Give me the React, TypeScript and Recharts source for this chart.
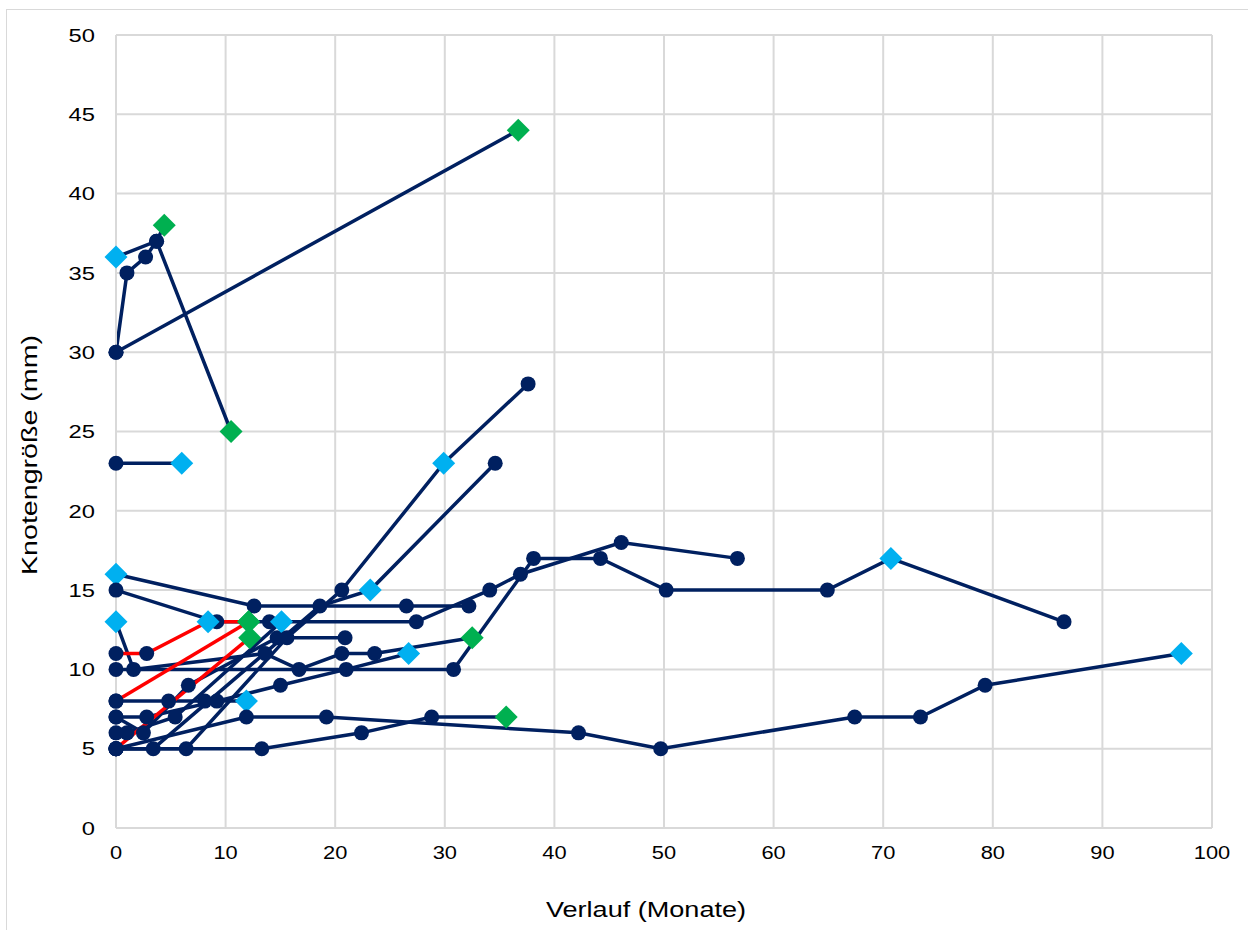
import { LineChart, Line, XAxis, YAxis, CartesianGrid } from 'recharts';

// [months, size in mm, marker]  o = navy circle, c = light blue diamond, g = green diamond
type Pt = [number, number, string];

const NAVY = '#002060';
const CYAN = '#00B0F0';
const GREEN = '#00B050';
const RED = '#FF0000';
const GRID = '#D9D9D9';
const FONT = '"Liberation Sans", Arial, sans-serif';

const xTicks = [0, 10, 20, 30, 40, 50, 60, 70, 80, 90, 100];
const yTicks = [0, 5, 10, 15, 20, 25, 30, 35, 40, 45, 50];

const pt01: Pt[] = [[0, 30, 'o'], [36.7, 44, 'g']];
const pt02: Pt[] = [[0, 30, 'o'], [1, 35, 'o'], [2.7, 36, 'o'], [3.7, 37, 'o'], [10.5, 25, 'g']];
const pt03: Pt[] = [[0, 36, 'c'], [3.7, 37, 'o'], [4.4, 38, 'g']];
const pt04: Pt[] = [[0, 23, 'o'], [6, 23, 'c']];
const pt05: Pt[] = [[0, 16, 'c'], [12.6, 14, 'o'], [26.5, 14, 'o'], [32.2, 14, 'o']];
const pt06: Pt[] = [[0, 15, 'o'], [9.2, 13, 'o'], [14, 13, 'o'], [27.4, 13, 'o'], [34.1, 15, 'o'], [36.9, 16, 'o'], [46.1, 18, 'o'], [56.7, 17, 'o']];
const pt07: Pt[] = [[0, 13, 'c'], [1.6, 10, 'o'], [13.6, 11, 'o'], [16.7, 10, 'o'], [20.6, 11, 'o'], [23.6, 11, 'o'], [32.5, 12, 'g']];
const pt08: Pt[] = [[0, 10, 'o'], [30.8, 10, 'o'], [38.1, 17, 'o'], [44.2, 17, 'o'], [50.2, 15, 'o'], [64.9, 15, 'o'], [70.7, 17, 'c'], [86.5, 13, 'o']];
const pt09: Pt[] = [[0, 8, 'o'], [4.8, 8, 'o'], [8.1, 8, 'o'], [11.9, 8, 'c']];
const pt10: Pt[] = [[0, 7, 'o'], [2.8, 7, 'o'], [9.2, 8, 'o'], [15, 9, 'o'], [21, 10, 'o'], [26.7, 11, 'c']];
const pt11: Pt[] = [[0, 7, 'o'], [2.5, 6, 'o'], [6.6, 9, 'o'], [14.7, 12, 'o'], [20.9, 12, 'o']];
const pt12: Pt[] = [[0, 6, 'o'], [1, 6, 'o'], [5.4, 7, 'o'], [15.1, 13, 'c']];
const pt13: Pt[] = [[0, 5, 'o'], [3.4, 5, 'o'], [18.6, 14, 'o'], [23.2, 15, 'c'], [34.6, 23, 'o']];
const pt14: Pt[] = [[0, 5, 'o'], [6.4, 5, 'o'], [15.6, 12, 'o'], [20.6, 15, 'o'], [29.9, 23, 'c'], [37.6, 28, 'o']];
const pt15: Pt[] = [[0, 5, 'o'], [13.3, 5, 'o'], [22.4, 6, 'o'], [28.8, 7, 'o'], [35.6, 7, 'g']];
const pt16: Pt[] = [[0, 5, 'o'], [11.9, 7, 'o'], [19.2, 7, 'o'], [42.2, 6, 'o'], [49.7, 5, 'o'], [67.4, 7, 'o'], [73.4, 7, 'o'], [79.3, 9, 'o'], [97.2, 11, 'c']];
// red lines
const pt17: Pt[] = [[0, 11, 'o'], [2.8, 11, 'o'], [8.4, 13, 'c'], [12.1, 13, 'g']];
const pt18: Pt[] = [[0, 8, 'o'], [12.1, 13, 'g']];
const pt19: Pt[] = [[0, 5, 'o'], [12.2, 12, 'g']];

const navyPatients = [pt01, pt02, pt03, pt04, pt05, pt06, pt07, pt08, pt09, pt10, pt11, pt12, pt13, pt14, pt15, pt16];
const redPatients = [pt17, pt18, pt19];

const toRows = (p: Pt[]) => p.map(([x, y, m]) => ({ x, y, m }));

function renderMarker(props: any) {
  const { cx, cy, payload, index } = props;
  const k = `m-${index}-${cx}-${cy}`;
  if (cx == null || cy == null) return <g key={k} />;
  if (payload.m === 'c' || payload.m === 'g') {
    const s = 11.5;
    return (
      <path
        key={k}
        d={`M${cx},${cy - s}L${cx + s},${cy}L${cx},${cy + s}L${cx - s},${cy}Z`}
        fill={payload.m === 'c' ? CYAN : GREEN}
      />
    );
  }
  return <circle key={k} cx={cx} cy={cy} r={7.5} fill={NAVY} />;
}

function XTick({ x, y, payload }: any) {
  return (
    <g transform={`translate(${x},${y}) scale(1.15,1)`}>
      <text x={0} y={0} dy="0.71em" textAnchor="middle" fontSize={19} fontFamily={FONT} fill="#000">
        {payload.value}
      </text>
    </g>
  );
}

function YTick({ x, y, payload }: any) {
  return (
    <g transform={`translate(${x},${y}) scale(1.25,1)`}>
      <text x={0} y={0} dy="0.355em" textAnchor="end" fontSize={19} fontFamily={FONT} fill="#000">
        {payload.value}
      </text>
    </g>
  );
}

export default function App() {
  return (
    <div style={{ position: 'absolute', left: 0, top: 0, width: 1248, height: 930, background: '#fff', overflow: 'hidden', fontFamily: FONT }}>
      <div style={{ position: 'absolute', left: 6, top: 9, width: 1260, height: 940, border: `1px solid ${GRID}` }} />
      <LineChart width={1248} height={930} margin={{ top: 35, right: 36, bottom: 0, left: 0 }}>
        <CartesianGrid stroke={GRID} strokeWidth={2} />
        <XAxis
          type="number"
          dataKey="x"
          domain={[0, 100]}
          ticks={xTicks}
          height={102}
          tickSize={0}
          tickMargin={18}
          tick={<XTick />}
          axisLine={{ stroke: GRID, strokeWidth: 2 }}
          tickLine={false}
        />
        <YAxis
          type="number"
          dataKey="y"
          domain={[0, 50]}
          ticks={yTicks}
          width={116}
          tickSize={0}
          tickMargin={21}
          tick={<YTick />}
          axisLine={{ stroke: GRID, strokeWidth: 2 }}
          tickLine={false}
        />
        {navyPatients.map((p, i) => (
          <Line
            key={`n${i}`}
            data={toRows(p)}
            dataKey="y"
            type="linear"
            stroke={NAVY}
            strokeWidth={3.5}
            dot={renderMarker}
            activeDot={false}
            isAnimationActive={false}
          />
        ))}
        {redPatients.map((p, i) => (
          <Line
            key={`r${i}`}
            data={toRows(p)}
            dataKey="y"
            type="linear"
            stroke={RED}
            strokeWidth={3.5}
            dot={renderMarker}
            activeDot={false}
            isAnimationActive={false}
          />
        ))}
      </LineChart>
      <div
        style={{
          position: 'absolute',
          left: 646,
          top: 910,
          transform: 'translate(-50%, -50%) scaleX(1.23)',
          fontSize: 22,
          whiteSpace: 'nowrap',
          color: '#000',
        }}
      >
        Verlauf (Monate)
      </div>
      <div
        style={{
          position: 'absolute',
          left: 30,
          top: 455,
          transform: 'translate(-50%, -50%) rotate(-90deg) scaleX(1.3)',
          fontSize: 22,
          whiteSpace: 'nowrap',
          color: '#000',
        }}
      >
        Knotengröße (mm)
      </div>
    </div>
  );
}
